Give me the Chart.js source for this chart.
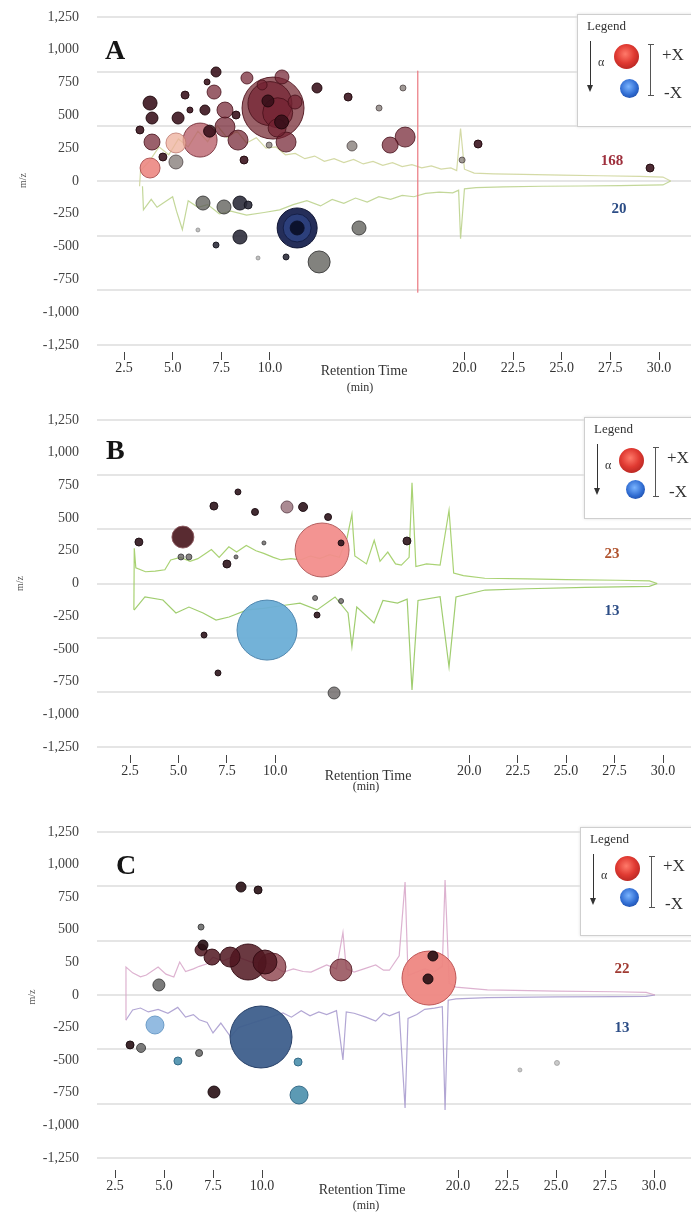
<!DOCTYPE html>
<html><head><meta charset="utf-8">
<script src="https://cdn.jsdelivr.net/npm/chart.js@4.4.1/dist/chart.umd.min.js"></script>
<style>
html,body{margin:0;padding:0;background:#fff;}
body{width:691px;height:1215px;overflow:hidden;position:relative;font-family:"Liberation Serif","DejaVu Serif",serif;}
.cv{position:absolute;left:0;}
.letter{position:absolute;font-weight:bold;font-size:28px;line-height:28px;color:#151515;}
.count{position:absolute;font-weight:bold;font-size:15px;line-height:15px;transform:translate(-50%,-50%);}
.rt{position:absolute;font-size:14px;line-height:14px;color:#333;transform:translate(-50%,-50%);white-space:nowrap;}
.legend{position:absolute;width:140px;border:1px solid #cfcfcf;background:#fff;box-shadow:0 0 3px #e0e0e0;}
.legend .t{position:absolute;left:9px;top:3px;font-size:13px;color:#333;}
.legend .arr{position:absolute;left:12px;top:26px;width:0;height:46px;border-left:1.5px solid #333;}
.legend .arr:after{content:"";position:absolute;left:-4.5px;top:44px;border-left:3.5px solid transparent;border-right:3.5px solid transparent;border-top:7px solid #333;}
.legend .al{position:absolute;left:20px;top:40px;font-size:12px;color:#333;}
.legend .ball{position:absolute;border-radius:50%;}
.legend .red{background:radial-gradient(circle at 45% 40%,#ff7a6a 0%,#e03a32 45%,#9c1a18 100%);}
.legend .blue{background:radial-gradient(circle at 45% 40%,#7ab4ff 0%,#2e6ad0 55%,#183a8a 100%);}
.legend .br{position:absolute;width:6px;border-top:1.5px solid #555;border-bottom:1.5px solid #555;}
.legend .br:before{content:"";position:absolute;left:2px;top:0;bottom:0;border-left:1.5px solid #555;}
.legend .px{position:absolute;font-size:17px;color:#333;}
</style>
</head><body>
<canvas id="cA" class="cv" style="top:0px" width="691" height="400"></canvas>
<canvas id="cB" class="cv" style="top:400px" width="691" height="400"></canvas>
<canvas id="cC" class="cv" style="top:800px" width="691" height="415"></canvas>

<div class="letter" style="left:105px;top:36px">A</div>
<div class="letter" style="left:106px;top:436px">B</div>
<div class="letter" style="left:116px;top:851px">C</div>

<div class="count" style="left:612px;top:160px;color:#9e2f3c">168</div>
<div class="count" style="left:619px;top:208px;color:#2c4d86">20</div>
<div class="count" style="left:612px;top:553px;color:#b0532e">23</div>
<div class="count" style="left:612px;top:610px;color:#2c4d86">13</div>
<div class="count" style="left:622px;top:968px;color:#a03a32">22</div>
<div class="count" style="left:622px;top:1027px;color:#2c4d86">13</div>

<div class="rt" style="left:364px;top:371px">Retention Time</div>
<div class="rt" style="left:360px;top:387px;font-size:12px">(min)</div>
<div class="rt" style="left:368px;top:776px">Retention Time</div>
<div class="rt" style="left:366px;top:786px;font-size:12px">(min)</div>
<div class="rt" style="left:362px;top:1190px">Retention Time</div>
<div class="rt" style="left:366px;top:1205px;font-size:12px">(min)</div>

<div class="legend" style="left:577px;top:14px;height:111px">
  <div class="t">Legend</div><div class="arr"></div><div class="al">α</div>
  <div class="ball red" style="left:36px;top:29px;width:25px;height:25px"></div>
  <div class="ball blue" style="left:42px;top:64px;width:19px;height:19px"></div>
  <div class="br" style="left:70px;top:29px;height:50px"></div>
  <div class="px" style="left:84px;top:30px">+X</div>
  <div class="px" style="left:86px;top:68px">-X</div>
</div>
<div class="legend" style="left:584px;top:417px;height:100px">
  <div class="t">Legend</div><div class="arr"></div><div class="al">α</div>
  <div class="ball red" style="left:34px;top:30px;width:25px;height:25px"></div>
  <div class="ball blue" style="left:41px;top:62px;width:19px;height:19px"></div>
  <div class="br" style="left:68px;top:29px;height:48px"></div>
  <div class="px" style="left:82px;top:30px">+X</div>
  <div class="px" style="left:84px;top:64px">-X</div>
</div>
<div class="legend" style="left:580px;top:827px;height:107px">
  <div class="t">Legend</div><div class="arr"></div><div class="al">α</div>
  <div class="ball red" style="left:34px;top:28px;width:25px;height:25px"></div>
  <div class="ball blue" style="left:39px;top:60px;width:19px;height:19px"></div>
  <div class="br" style="left:68px;top:28px;height:50px"></div>
  <div class="px" style="left:82px;top:28px">+X</div>
  <div class="px" style="left:84px;top:66px">-X</div>
</div>

<script>
// ---------- axis tick values / labels ----------
const xTickValues = [2.5, 5, 7.5, 10, 20, 22.5, 25, 27.5, 30];
const yTickValues = [-1250, -1000, -750, -500, -250, 0, 250, 500, 750, 1000, 1250];
const yTickLabelsAB = ['-1,250','-1,000','-750','-500','-250','0','250','500','750','1,000','1,250'];
const yTickLabelsC  = ['-1,250','-1,000','-750','-500','-250','0','50','500','750','1,000','1,250'];
const gridValues = [-1250, -833.3, -416.7, 0, 416.7, 833.3, 1250];

// ---------- Panel A : bubbles [retention time, m/z, size] ----------
const aBigMaroon = [[10.16, 556, 31]];
const aMaroon = [[10.0,590,22],[10.4,520,15],[7.69,412,10],[8.36,312,10],[10.83,297,10],[16.95,335,10],[16.18,274,8],[7.69,541,8],[10.37,404,9],[11.29,602,7],[7.13,678,7],[10.62,793,7],[8.82,785,6],[3.94,297,8],[9.6,732,5]];
const aPinkMaroon = [[6.41,312,17]];
const aPink = [[3.84,99,10]];
const aPale = [[5.17,290,10]];
const aDark = [[3.84,594,7],[3.94,480,6],[5.28,480,6],[7.23,831,5],[12.42,709,5],[14.02,640,4],[5.64,655,4],[6.66,541,5],[6.77,755,3],[5.89,541,3],[8.26,503,4],[4.5,183,4],[8.67,160,4],[20.7,282,4],[29.54,99,4],[6.9,380,6],[9.9,610,6],[10.6,450,7],[3.32,389,4]];
const aGray = [[5.17,145,7],[14.22,267,5],[15.61,556,3],[19.88,160,3],[9.96,274,3],[16.84,709,3]];
const aNavyOuter = [[11.4,-358,20]];
const aNavyRing = [[11.4,-358,14]];
const aNavyCore = [[11.4,-358,7]];
const aNegGray = [[12.53,-617,11],[14.58,-358,7],[6.56,-168,7],[7.64,-198,7]];
const aNegDark = [[8.46,-168,7],[8.88,-183,4],[10.83,-579,3],[7.23,-488,3],[8.46,-427,7]];
const aNegLight = [[6.3,-373,2],[9.39,-587,2]];
// Panel A : chromatogram traces [retention time, signal]
const aTraceUp = [[3.3,-40],[3.35,80],[3.8,150],[4.3,260],[4.8,200],[5.3,320],[5.8,260],[6.3,380],[6.8,300],[7.3,420],[7.8,330],[8.3,380],[8.8,290],[9.3,330],[9.8,250],[10.3,260],[10.8,200],[11.3,210],[11.8,170],[12.3,190],[12.8,150],[13.3,170],[13.8,140],[14.3,165],[14.8,130],[15.3,150],[15.8,120],[16.3,140],[16.8,110],[17.3,125],[17.8,100],[18.3,115],[18.8,90],[19.3,100],[19.6,80],[19.8,400],[20.0,90],[20.5,60],[21.5,55],[23,50],[25,45],[27,40],[29,35],[30.2,30],[30.6,0]];
const aTraceDown = [[3.45,-40],[3.5,-220],[3.9,-140],[4.2,-200],[4.5,-170],[5.0,-120],[5.2,-230],[5.5,-370],[5.8,-150],[6.3,-200],[6.8,-180],[7.4,-250],[8.0,-230],[8.8,-260],[9.7,-240],[10.5,-220],[11.2,-180],[11.9,-150],[12.6,-190],[13.2,-140],[13.8,-170],[14.4,-130],[15.0,-160],[15.6,-120],[16.2,-140],[16.8,-110],[17.4,-120],[18.0,-95],[18.7,-85],[19.4,-90],[19.7,-70],[19.8,-440],[20.0,-60],[20.6,-50],[22,-45],[24,-40],[26,-38],[28,-35],[30.2,-30],[30.6,0]];
const aMarker = [[17.6,840],[17.6,-850]];

// ---------- Panel B ----------
const bPink = [[12.41,256,27]];
const bBlue = [[9.57,-356,30]];
const bMaroon = [[5.23,355,11]];
const bDark = [[2.96,317,4],[6.83,592,4],[8.07,700,3],[8.95,547,3.5],[11.43,585,4.5],[12.72,508,3.5],[13.39,310,3],[16.79,325,4],[7.5,149,4],[6.32,-394,3],[7.04,-684,3],[12.15,-241,3]];
const bMauve = [[10.6,585,6]];
const bGray = [[5.13,203,3],[5.54,203,3],[13.03,-837,6],[12.05,-111,2.5],[13.39,-134,2.5],[7.97,203,2],[9.41,310,2]];
const bTraceUp = [[2.7,-200],[2.72,270],[2.8,120],[3.3,90],[3.8,95],[4.3,105],[4.6,180],[5.1,200],[5.6,170],[6.0,190],[6.4,230],[6.7,260],[7.1,200],[7.6,280],[8.0,240],[8.5,290],[9.0,250],[9.4,230],[9.9,200],[10.3,180],[10.8,190],[11.3,180],[11.8,210],[12.3,190],[12.8,220],[13.3,200],[13.7,350],[13.95,530],[14.1,210],[14.7,150],[15.1,330],[15.4,170],[15.8,240],[16.2,150],[16.5,140],[16.9,200],[17.05,770],[17.25,130],[17.8,150],[18.5,140],[18.96,560],[19.2,80],[19.7,60],[20.8,40],[23,35],[25,30],[27.6,25],[29.3,20],[29.7,0]];
const bTraceDown = [[2.71,-203],[3.27,-103],[4.2,-126],[4.87,-225],[5.54,-180],[6.27,-225],[6.94,-279],[7.61,-256],[8.54,-202],[9.4,-190],[10.3,-170],[11.27,-150],[12.15,-202],[13.08,-103],[13.75,-225],[13.95,-485],[14.2,-180],[15.09,-302],[15.55,-130],[16.3,-150],[16.8,-120],[17.05,-814],[17.36,-130],[18.5,-100],[18.96,-638],[19.32,-103],[20.82,-50],[23,-40],[26,-30],[29.3,-22],[29.7,0]];

// ---------- Panel C ----------
const cPink = [[18.52,130,27]];
const cNavy = [[9.95,-322,31]];
const cMaroon = [[9.29,253,18],[8.37,291,10],[7.45,291,8],[6.89,345,6],[10.15,253,12]];
const cMaroonPink = [[10.51,215,14],[14.03,192,11]];
const cDark = [[18.47,123,5],[18.72,299,5],[8.93,828,5],[9.8,805,4],[3.27,-383,4],[7.55,-744,6],[6.99,383,5]];
const cGray = [[4.74,77,6],[6.89,521,3],[3.83,-406,4.5],[6.79,-445,3.5]];
const cLightBlue = [[4.54,-230,9]];
const cTeal = [[5.71,-506,4],[11.84,-514,4],[11.89,-767,9]];
const cLight = [[23.16,-575,2],[25.05,-521,2.5]];
const cTraceUp = [[3.05,-190],[3.06,215],[3.4,170],[3.8,140],[4.1,153],[4.7,215],[5.1,160],[5.5,138],[5.8,253],[6.1,180],[6.5,200],[6.8,220],[7.2,240],[7.5,290],[8.0,260],[8.6,300],[9.5,250],[10.4,240],[11.1,176],[11.6,200],[12.1,180],[12.5,176],[13.0,210],[13.3,230],[13.8,200],[14.13,480],[14.3,200],[14.7,176],[15.2,200],[15.8,230],[16.2,190],[16.5,190],[17.0,300],[17.3,866],[17.45,150],[18.3,200],[18.8,180],[19.2,220],[19.34,882],[19.55,90],[19.9,61],[21.5,40],[25,30],[28,25],[29.6,20],[30.05,0]];
const cTraceDown = [[3.06,-192],[3.4,-115],[3.8,-100],[4.2,-130],[4.7,-110],[5.2,-140],[5.7,-95],[6.1,-170],[6.5,-150],[6.8,-190],[7.2,-210],[7.5,-291],[7.9,-215],[8.4,-320],[8.8,-250],[11.07,-138],[11.5,-170],[12.0,-120],[12.45,-160],[12.9,-130],[13.3,-150],[13.8,-120],[14.13,-498],[14.3,-130],[14.7,-140],[15.3,-170],[15.8,-200],[16.2,-140],[16.5,-160],[17.0,-130],[17.3,-866],[17.45,-180],[17.9,-150],[18.3,-110],[18.8,-100],[19.2,-90],[19.34,-882],[19.5,-40],[19.9,-30],[21.5,-20],[25,-15],[28,-12],[29.6,-10],[30.05,0]];

// ---------- helpers ----------
function bub(data, bg, border, order) {
  return {type:'bubble', data, backgroundColor:bg, borderColor:border, borderWidth:1, order:order||1, yAxisID:'y'};
}
function trace(data, color, w) {
  return {type:'line', data, borderColor:color, borderWidth:w||1, pointRadius:0, fill:false, tension:0, order:20, yAxisID:'y'};
}
function noPad(s) { s.paddingTop = 0; s.paddingBottom = 0; s.paddingLeft = 0; s.paddingRight = 0; }
function panel(id, a, yLabels, titleOff, datasets) {
  const ky = (a.g2 - a.g1) / 2500;
  const ymax = 1250 + (a.g1 - a.T) / ky, ymin = -1250 - (a.Bt - a.g2) / ky;
  const kx = (a.q2 - a.q1) / 27.5;
  const xmin = 2.5 - (a.q1 - 97) / kx, xmax = 30 + (691 - a.q2) / kx;
  const font = {family:'"Liberation Serif", serif', size:14};
  new Chart(document.getElementById(id), {
    type:'bubble',
    data:{datasets},
    options:{
      responsive:false, animation:false, events:[],
      layout:{autoPadding:false, padding:{top:a.T,left:0,right:0,bottom:0}},
      plugins:{legend:{display:false}, tooltip:{enabled:false}},
      scales:{
        x:{type:'linear', min:xmin, max:xmax, position:'bottom',
           afterBuildTicks:s=>{ s.ticks = xTickValues.map(v=>({value:v})); },
           afterFit:s=>{ s.height = a.H - a.Bt; noPad(s); },
           grid:{display:true, drawOnChartArea:false, drawTicks:true, tickLength:8, color:'#444', lineWidth:1},
           border:{display:false},
           ticks:{autoSkip:false, maxRotation:0, padding:0, color:'#333', font, callback:v=>Number(v).toFixed(1)}},
        y:{type:'linear', min:ymin, max:ymax, position:'left',
           afterBuildTicks:s=>{ s.ticks = yTickValues.map(v=>({value:v})); },
           afterFit:s=>{ s.width = 97; noPad(s); },
           grid:{display:false, drawTicks:false}, border:{display:false},
           title:{display:true, text:'m/z', color:'#555', font:{family:'"Liberation Serif", serif', size:10}, padding:{top:titleOff, bottom:0}},
           ticks:{autoSkip:false, padding:18, color:'#444', font, callback:(v,i)=>yLabels[i]}},
        yg:{type:'linear', min:ymin, max:ymax, position:'left',
           afterBuildTicks:s=>{ s.ticks = gridValues.map(v=>({value:v})); },
           afterFit:s=>{ s.width = 0; noPad(s); },
           grid:{color:'#e5e5e5', lineWidth:2, drawTicks:false}, border:{display:false},
           ticks:{display:false}}
      }
    }
  });
}

panel('cA', {g1:17, g2:345, T:9, Bt:352, H:400, q1:124, q2:659}, yTickLabelsAB, 17, [
  bub(aDark, 'rgba(55,15,25,0.88)', 'rgba(30,5,10,0.9)', 1),
  bub(aGray, 'rgba(120,110,105,0.7)', 'rgba(80,70,70,0.8)', 1),
  bub(aPink, 'rgba(236,135,130,0.9)', 'rgba(170,80,80,0.9)', 2),
  bub(aPale, 'rgba(238,175,155,0.75)', 'rgba(190,120,110,0.8)', 2),
  bub(aMaroon, 'rgba(115,35,50,0.72)', 'rgba(70,15,25,0.8)', 3),
  bub(aPinkMaroon, 'rgba(185,95,105,0.78)', 'rgba(120,50,60,0.9)', 4),
  bub(aBigMaroon, 'rgba(120,45,55,0.75)', 'rgba(80,20,30,0.9)', 6),
  bub(aNegLight, 'rgba(150,150,150,0.6)', 'rgba(120,120,120,0.6)', 1),
  bub(aNegDark, 'rgba(40,40,55,0.88)', 'rgba(20,20,30,0.9)', 1),
  bub(aNegGray, 'rgba(95,95,90,0.78)', 'rgba(60,60,60,0.9)', 2),
  bub(aNavyCore, 'rgba(12,18,45,1)', 'rgba(12,18,45,1)', 3),
  bub(aNavyRing, 'rgba(45,65,125,0.95)', 'rgba(20,30,70,1)', 4),
  bub(aNavyOuter, 'rgba(25,35,80,0.95)', 'rgba(15,20,50,1)', 5),
  trace(aMarker, 'rgba(235,120,130,0.6)', 1),
  trace(aTraceUp, 'rgba(205,212,150,0.85)', 1.2),
  trace(aTraceDown, 'rgba(185,208,135,0.85)', 1.2)
]);

panel('cB', {g1:20, g2:347, T:12, Bt:355, H:400, q1:130, q2:663}, yTickLabelsAB, 14, [
  bub(bDark, 'rgba(45,20,28,0.9)', 'rgba(25,10,15,0.9)', 1),
  bub(bGray, 'rgba(95,90,90,0.75)', 'rgba(60,60,60,0.85)', 1),
  bub(bMauve, 'rgba(150,110,120,0.8)', 'rgba(100,70,80,0.9)', 2),
  bub(bMaroon, 'rgba(75,25,32,0.92)', 'rgba(140,90,95,0.9)', 2),
  bub(bPink, 'rgba(242,142,140,0.95)', 'rgba(180,95,95,1)', 5),
  bub(bBlue, 'rgba(108,174,214,0.95)', 'rgba(80,135,175,1)', 5),
  trace(bTraceUp, 'rgba(160,205,100,0.9)', 1.2),
  trace(bTraceDown, 'rgba(150,200,95,0.9)', 1.2)
]);

panel('cC', {g1:32, g2:358, T:24, Bt:370, H:415, q1:115, q2:654}, yTickLabelsC, 26, [
  bub(cDark, 'rgba(40,15,20,0.9)', 'rgba(20,5,10,0.9)', 1),
  bub(cGray, 'rgba(90,90,90,0.8)', 'rgba(60,60,60,0.9)', 1),
  bub(cLight, 'rgba(180,180,180,0.7)', 'rgba(150,150,150,0.7)', 1),
  bub(cTeal, 'rgba(70,140,170,0.88)', 'rgba(45,100,130,0.9)', 2),
  bub(cLightBlue, 'rgba(135,180,222,0.9)', 'rgba(100,150,195,0.9)', 2),
  bub(cMaroon, 'rgba(80,22,32,0.85)', 'rgba(50,10,18,0.9)', 3),
  bub(cMaroonPink, 'rgba(140,65,75,0.8)', 'rgba(90,35,45,0.9)', 4),
  bub(cPink, 'rgba(238,135,130,0.95)', 'rgba(190,85,85,1)', 5),
  bub(cNavy, 'rgba(62,95,140,0.95)', 'rgba(40,65,105,1)', 5),
  trace(cTraceUp, 'rgba(215,165,200,0.85)', 1.2),
  trace(cTraceDown, 'rgba(165,150,205,0.85)', 1.2)
]);
</script>
</body></html>
